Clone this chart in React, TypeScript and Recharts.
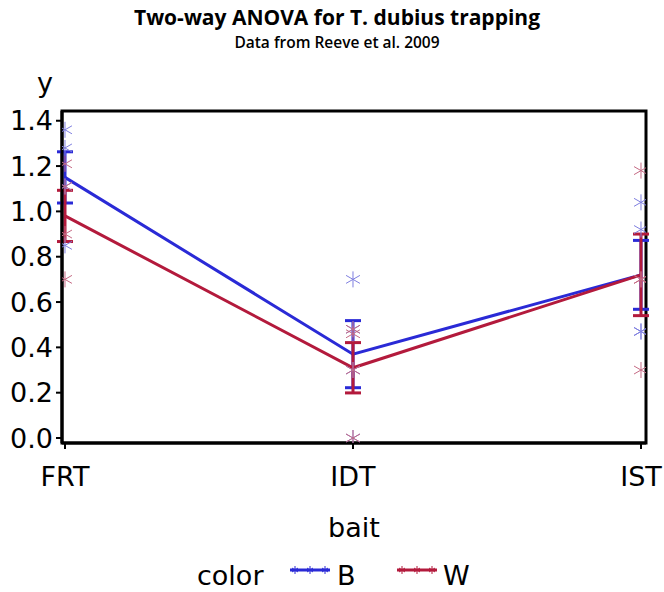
import React from "react";
import {
  ComposedChart,
  Line,
  Scatter,
  XAxis,
  YAxis,
  ErrorBar,
  ReferenceArea,
} from "recharts";

const CATEGORIES = ["FRT", "IDT", "IST"];
const Y_TICKS = [0, 0.2, 0.4, 0.6, 0.8, 1.0, 1.2, 1.4];

// group means and standard errors
const B_MEAN = [1.15, 0.37, 0.72];
const B_SE = [0.113, 0.148, 0.152];
const W_MEAN = [0.98, 0.31, 0.72];
const W_SE = [0.113, 0.111, 0.18];

// raw trap counts (4 per bait) for each colour
const B_POINTS = [
  [1.36, 1.28, 1.11, 0.85],
  [0.7, 0.48, 0.3, 0.0],
  [1.04, 0.92, 0.47, 0.47],
];
const W_POINTS = [
  [1.21, 1.11, 0.9, 0.7],
  [0.48, 0.46, 0.3, 0.0],
  [1.18, 0.7, 0.7, 0.3],
];

const B_COLOR = "#2a2ad6";
const W_COLOR = "#b31a3c";
const B_STAR = "#7f7fe0";
const W_STAR = "#c56a84";
const FONT = "DejaVu Sans, sans-serif";

const X_DOMAIN = [-0.0104, 2.0174];
const Y_DOMAIN = [-0.022, 1.443];

const meanData = (means: number[], se: number[]) =>
  means.map((y, i) => ({ x: i, y, err: se[i] }));

const pointData = (groups: number[][]) =>
  groups.flatMap((vals, i) => vals.map((y) => ({ x: i, y })));

const Asterisk = (color: string, r = 8) => (props: any) => {
  const { cx, cy } = props;
  const dx = r * 0.87;
  const dy = r * 0.5;
  return (
    <g stroke={color} strokeWidth={1}>
      <line x1={cx} y1={cy - r} x2={cx} y2={cy + r} />
      <line x1={cx - dx} y1={cy - dy} x2={cx + dx} y2={cy + dy} />
      <line x1={cx - dx} y1={cy + dy} x2={cx + dx} y2={cy - dy} />
    </g>
  );
};

const LegendLine = ({ x, y, color }: { x: number; y: number; color: string }) => (
  <g>
    <line x1={x} y1={y} x2={x + 40} y2={y} stroke={color} strokeWidth={3} />
    {[5, 20, 35].map((d) => (
      <g key={d} stroke={color} strokeWidth={1}>
        <line x1={x + d} y1={y - 4} x2={x + d} y2={y + 4} />
        <line x1={x + d - 3} y1={y - 2} x2={x + d + 3} y2={y + 2} />
        <line x1={x + d - 3} y1={y + 2} x2={x + d + 3} y2={y - 2} />
      </g>
    ))}
  </g>
);

const App = () => {
  const tickStyle = { fill: "#000", fontSize: 27, fontFamily: FONT };

  return (
    <div style={{ position: "absolute", left: 0, top: 0, width: 664, height: 592, background: "#fff" }}>
      <ComposedChart
        width={664}
        height={592}
        margin={{ top: 111, right: 18, bottom: 49, left: 0 }}
      >
        <XAxis
          type="number"
          dataKey="x"
          domain={X_DOMAIN}
          allowDataOverflow
          ticks={[0, 1, 2]}
          interval={0}
          tickFormatter={(v) => CATEGORIES[v]}
          height={100}
          tickSize={6}
          tickMargin={18}
          tick={tickStyle}
          axisLine={{ stroke: "#000", strokeWidth: 3 }}
          tickLine={{ stroke: "#000", strokeWidth: 2 }}
          label={{
            value: "bait",
            position: "insideBottom",
            offset: 6,
            fill: "#000",
            fontSize: 27,
            fontFamily: FONT,
          }}
        />
        <YAxis
          type="number"
          domain={Y_DOMAIN}
          allowDataOverflow
          ticks={Y_TICKS}
          interval={0}
          tickFormatter={(v) => v.toFixed(1)}
          width={62}
          tickSize={6}
          tickMargin={3}
          tick={tickStyle}
          axisLine={{ stroke: "#000", strokeWidth: 3 }}
          tickLine={{ stroke: "#000", strokeWidth: 2 }}
        />
        <ReferenceArea
          x1={X_DOMAIN[0]}
          x2={X_DOMAIN[1]}
          y1={Y_DOMAIN[0]}
          y2={Y_DOMAIN[1]}
          fill="none"
          fillOpacity={0}
          stroke="#000"
          strokeWidth={3}
          strokeOpacity={1}
          ifOverflow="visible"
        />
        <Scatter
          data={pointData(B_POINTS)}
          dataKey="y"
          shape={Asterisk(B_STAR)}
          isAnimationActive={false}
        />
        <Scatter
          data={pointData(W_POINTS)}
          dataKey="y"
          shape={Asterisk(W_STAR)}
          isAnimationActive={false}
        />
        <Line
          data={meanData(B_MEAN, B_SE)}
          dataKey="y"
          stroke={B_COLOR}
          strokeWidth={3}
          dot={false}
          isAnimationActive={false}
        >
          <ErrorBar dataKey="err" width={8} strokeWidth={3} stroke={B_COLOR} direction="y" />
        </Line>
        <Line
          data={meanData(W_MEAN, W_SE)}
          dataKey="y"
          stroke={W_COLOR}
          strokeWidth={3}
          dot={false}
          isAnimationActive={false}
        >
          <ErrorBar dataKey="err" width={8} strokeWidth={3} stroke={W_COLOR} direction="y" />
        </Line>
      </ComposedChart>

      <svg
        width={664}
        height={592}
        style={{ position: "absolute", left: 0, top: 0, pointerEvents: "none" }}
      >
        <text x={337} y={25} textAnchor="middle" fontFamily="Open Sans, sans-serif" fontWeight="bold" fontSize={21}>
          Two-way ANOVA for T. dubius trapping
        </text>
        <text x={337} y={48} textAnchor="middle" fontFamily="Open Sans, sans-serif" fontWeight={600} fontSize={15.5}>
          Data from Reeve et al. 2009
        </text>
        <text x={45} y={92} textAnchor="middle" fontFamily={FONT} fontSize={27}>
          y
        </text>
        <text x={197} y={585} fontFamily={FONT} fontSize={27}>
          color
        </text>
        <LegendLine x={290} y={570} color={B_COLOR} />
        <text x={337} y={585} fontFamily={FONT} fontSize={27}>
          B
        </text>
        <LegendLine x={397} y={570} color={W_COLOR} />
        <text x={443} y={585} fontFamily={FONT} fontSize={27}>
          W
        </text>
      </svg>
    </div>
  );
};

export default App;
